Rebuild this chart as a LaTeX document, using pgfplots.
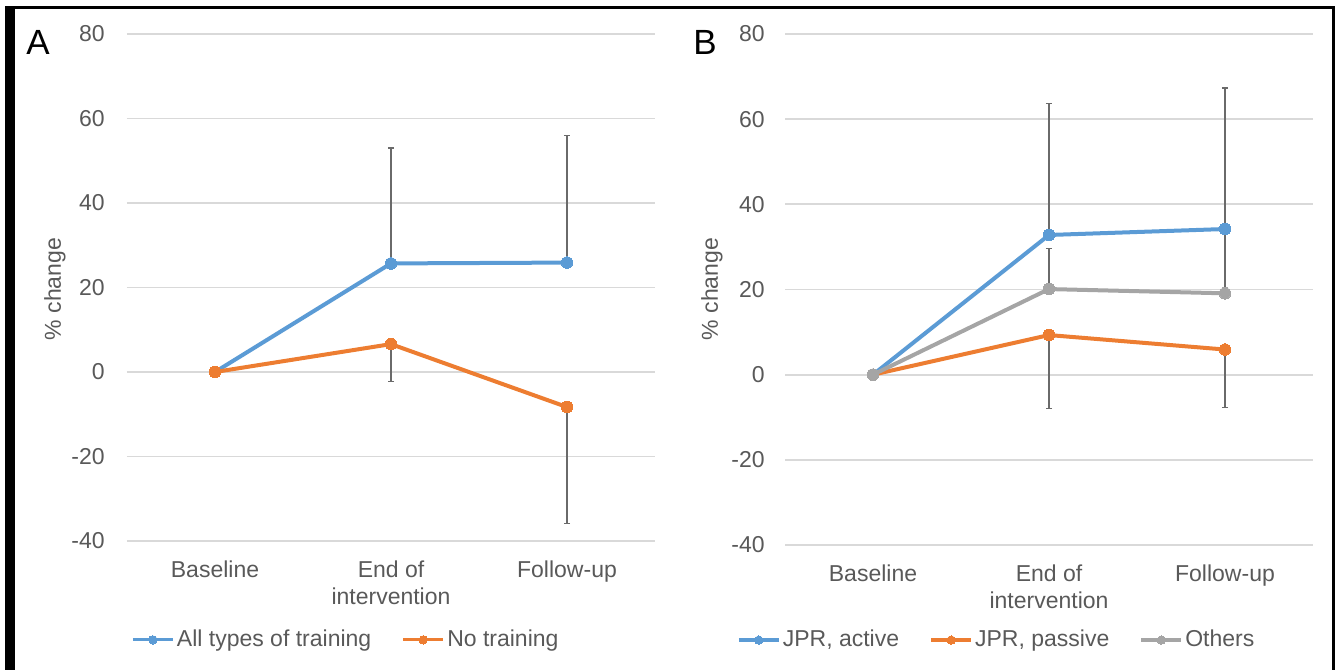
\documentclass[border=0pt]{standalone}
\usepackage{fontspec}
\setmainfont{Liberation Sans}
\usepackage{pgfplots}
\pgfplotsset{compat=1.18}
\definecolor{cblue}{HTML}{5B9BD5}
\definecolor{corange}{HTML}{ED7D31}
\definecolor{cgray}{HTML}{A5A5A5}
\definecolor{ctext}{HTML}{595959}
\definecolor{cgrid}{HTML}{D9D9D9}
\definecolor{cerr}{HTML}{6A6A6A}
\newcommand{\lbl}{\fontsize{11.5}{13.5}\selectfont}
\pgfplotsset{
  panel/.style={
    scale only axis, width=264pt,
    xmin=-0.5, xmax=2.5, ymin=-40, ymax=80,
    xtick={0,1,2}, xticklabels={Baseline, End of\\intervention, Follow-up},
    ytick={-40,-20,0,20,40,60,80},
    ymajorgrids, grid style={draw=cgrid, line width=0.9pt},
    axis line style={draw=none}, major tick length=0pt,
    tick label style={font=\lbl, text=ctext},
    xticklabel style={anchor=north, inner sep=0pt, align=center, yshift=-9.5pt},
    yticklabel style={anchor=east, inner sep=0pt},
    /pgf/number format/assume math mode=true,
    clip=false,
    legend style={draw=none, fill=none, font=\lbl, text=ctext, legend columns=-1,
      /tikz/every even column/.append style={column sep=14pt},
      inner sep=0pt, nodes={inner sep=1.2pt}},
    legend image code/.code={\draw[##1, line width=1.6pt, mark size=2.1pt, mark repeat=2, mark phase=2]
        plot coordinates {(0pt,0pt) (10pt,0pt) (20pt,0pt)};},
  },
  ser/.style={color=#1, line width=2pt, mark=*, mark size=2.9pt,
    mark options={solid, fill=#1, draw=#1, line width=0pt},
    error bars/error bar style={draw=cerr, line width=0.6pt},
    error bars/error mark options={rotate=90, mark size=1.6pt, draw=cerr, line width=0.6pt}},
}
\begin{document}
\begin{tikzpicture}
\path[use as bounding box] (0,0) rectangle (670pt,335pt);
% frame
\fill[black] (2.5pt,0) rectangle (7.5pt,331.75pt);
\draw[black, line width=1.5pt] (2.5pt,331pt) -- (667pt,331pt);
\draw[black, line width=1.5pt] (666.5pt,331.75pt) -- (666.5pt,0);

% Panel A
\begin{axis}[panel, height=253.5pt, at={(63.5pt,64.5pt)}, anchor=south west,
  yticklabel style={xshift=-11pt},
  legend style={at={(0.415,-0.195)}, anchor=center}]
\addplot[ser=cblue, error bars/.cd, y dir=plus, y explicit]
  coordinates {(0,0) +- (0,0) (1,25.7) +- (0,27.3) (2,25.9) +- (0,30.1)};
\addlegendentry{All types of training}
\addplot[ser=corange, error bars/.cd, y dir=minus, y explicit]
  coordinates {(0,0) +- (0,0) (1,6.6) +- (0,8.9) (2,-8.3) +- (0,27.5)};
\addlegendentry{No training}
\end{axis}

% Panel B
\begin{axis}[panel, height=255.5pt, at={(392.5pt,62.5pt)}, anchor=south west,
  yticklabel style={xshift=-10pt},
  legend style={at={(0.4015,-0.186)}, anchor=center}]
\addplot[ser=cblue, error bars/.cd, y dir=plus, y explicit]
  coordinates {(0,0) +- (0,0) (1,32.8) +- (0,30.8) (2,34.2) +- (0,33.1)};
\addlegendentry{JPR, active}
\addplot[ser=corange, error bars/.cd, y dir=minus, y explicit]
  coordinates {(0,0) +- (0,0) (1,9.3) +- (0,17.3) (2,5.9) +- (0,13.7)};
\addlegendentry{JPR, passive}
\addplot[ser=cgray, error bars/.cd, y dir=plus, y explicit]
  coordinates {(0,0) +- (0,0) (1,20.1) +- (0,9.6) (2,19.1) +- (0,14.5)};
\addlegendentry{Others}
\end{axis}

% panel letters and y labels
\node[font=\fontsize{17.5}{20}\selectfont, text=black] at (19pt,314pt) {A};
\node[font=\fontsize{17.5}{20}\selectfont, text=black] at (352.5pt,314pt) {B};
\node[font=\lbl, text=ctext, rotate=90] at (27.5pt,190.5pt) {\% change};
\node[font=\lbl, text=ctext, rotate=90] at (356pt,190.5pt) {\% change};
\end{tikzpicture}
\end{document}
